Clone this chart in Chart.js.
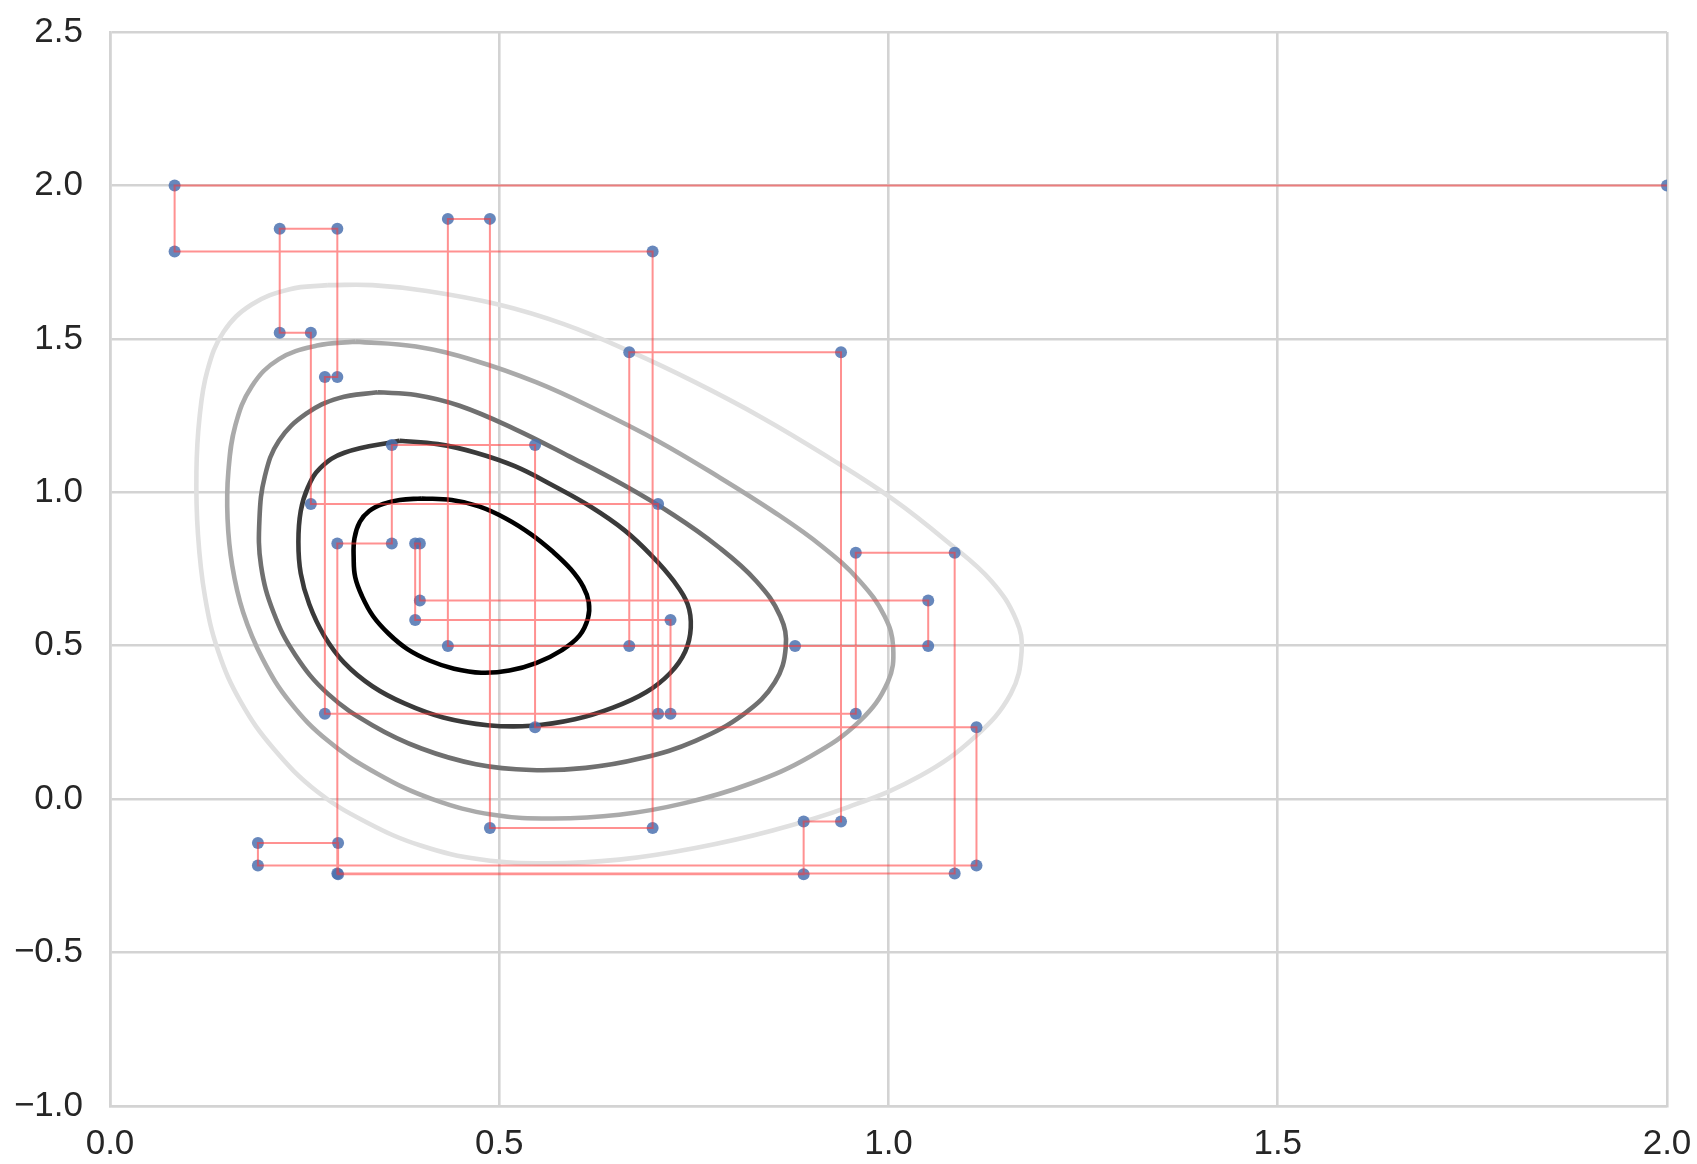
<!DOCTYPE html>
<html>
<head>
<meta charset="utf-8">
<script src="https://cdn.jsdelivr.net/npm/chart.js@4.4.1/dist/chart.umd.min.js"></script>
<style>
    body { margin: 0; background: #ffffff; }
    #wrap { width: 1697px; height: 1164px; }
</style>
</head>
<body>
<div id="wrap"><canvas id="myChart" width="1697" height="1164"></canvas></div>
<script>
// axis ticks
const xTicks = [0.0, 0.5, 1.0, 1.5, 2.0];
const yTicks = [-1.0, -0.5, 0.0, 0.5, 1.0, 1.5, 2.0, 2.5];

// coordinate descent path (blue dots joined by red steps)
const pathX = [2.0, 0.083, 0.083, 0.697, 0.697, 0.488, 0.488, 0.434, 0.434, 1.051,
    1.051, 0.398, 0.398, 0.392, 0.392, 0.720, 0.720, 0.276, 0.276, 0.292,
    0.292, 0.218, 0.218, 0.258, 0.258, 0.704, 0.704, 0.958, 0.958, 1.085,
    1.085, 0.292, 0.292, 0.362, 0.362, 0.546, 0.546, 1.113, 1.113, 0.190,
    0.190, 0.293, 0.293, 0.891, 0.891, 0.939, 0.939, 0.667, 0.667, 0.880];
const pathY = [2.0, 2.0, 1.785, 1.785, -0.094, -0.094, 1.891, 1.891, 0.499, 0.499,
    0.647, 0.647, 0.833, 0.833, 0.584, 0.584, 0.278, 0.278, 1.376, 1.376,
    1.859, 1.859, 1.520, 1.520, 0.962, 0.962, 0.278, 0.278, 0.803, 0.803,
    -0.242, -0.242, 0.833, 0.833, 1.154, 1.154, 0.234, 0.234, -0.216, -0.216,
    -0.143, -0.143, -0.245, -0.245, -0.073, -0.073, 1.456, 1.456, 0.499, 0.499];

// contour lines, innermost first
const level1X = [0.400, 0.372, 0.351, 0.333, 0.321, 0.314, 0.313, 0.315, 0.324, 0.338, 0.358,
    0.382, 0.411, 0.442, 0.477, 0.513, 0.548, 0.580, 0.603, 0.614, 0.615, 0.608, 0.592,
    0.569, 0.541, 0.509, 0.474, 0.439];
const level1Y = [0.980, 0.975, 0.962, 0.939, 0.904, 0.850, 0.787, 0.723, 0.660, 0.596, 0.539,
    0.489, 0.451, 0.425, 0.412, 0.419, 0.444, 0.485, 0.533, 0.590, 0.641, 0.692, 0.749,
    0.806, 0.863, 0.914, 0.954, 0.975];

const level2X = [0.372, 0.301, 0.270, 0.254, 0.245, 0.242, 0.245, 0.256, 0.275, 0.301, 0.337,
    0.379, 0.428, 0.485, 0.541, 0.597, 0.646, 0.689, 0.720, 0.739, 0.746, 0.742, 0.724,
    0.696, 0.661, 0.618, 0.569, 0.520, 0.470, 0.421];
const level2Y = [1.168, 1.129, 1.079, 1.015, 0.939, 0.838, 0.736, 0.635, 0.533, 0.444, 0.368,
    0.311, 0.266, 0.241, 0.239, 0.260, 0.298, 0.349, 0.412, 0.482, 0.558, 0.635, 0.711,
    0.793, 0.876, 0.952, 1.022, 1.085, 1.129, 1.157];

const level3X = [0.344, 0.294, 0.252, 0.217, 0.199, 0.192, 0.194, 0.210, 0.238, 0.280, 0.337,
    0.400, 0.470, 0.541, 0.611, 0.682, 0.752, 0.815, 0.854, 0.868, 0.861, 0.830, 0.780,
    0.724, 0.661, 0.590, 0.520, 0.449, 0.393];
const level3Y = [1.326, 1.307, 1.256, 1.168, 1.053, 0.914, 0.761, 0.609, 0.470, 0.343, 0.241,
    0.165, 0.114, 0.095, 0.102, 0.133, 0.190, 0.279, 0.381, 0.495, 0.596, 0.711, 0.825,
    0.926, 1.022, 1.117, 1.206, 1.282, 1.317];

const level4X = [0.315, 0.266, 0.217, 0.182, 0.161, 0.152, 0.151, 0.157, 0.171, 0.196, 0.231,
    0.280, 0.344, 0.414, 0.492, 0.569, 0.654, 0.738, 0.823, 0.900, 0.963, 0.999, 1.006,
    0.995, 0.963, 0.914, 0.851, 0.780, 0.703, 0.625, 0.548, 0.470, 0.393];
const level4Y = [1.491, 1.478, 1.434, 1.345, 1.218, 1.066, 0.914, 0.761, 0.609, 0.457, 0.317,
    0.190, 0.082, 0.000, -0.051, -0.063, -0.051, -0.013, 0.051, 0.140, 0.254, 0.381, 0.495,
    0.596, 0.711, 0.825, 0.939, 1.053, 1.168, 1.269, 1.358, 1.428, 1.475];

const level5X = [0.280, 0.231, 0.182, 0.146, 0.125, 0.115, 0.111, 0.113, 0.122, 0.139, 0.168,
    0.210, 0.266, 0.330, 0.400, 0.477, 0.562, 0.654, 0.752, 0.851, 0.949, 1.041, 1.111,
    1.157, 1.171, 1.164, 1.132, 1.076, 1.006, 0.921, 0.837, 0.752, 0.668, 0.583, 0.499,
    0.407, 0.337];
const level5Y = [1.675, 1.662, 1.612, 1.523, 1.396, 1.244, 1.066, 0.863, 0.660, 0.482, 0.317,
    0.165, 0.025, -0.076, -0.152, -0.197, -0.209, -0.197, -0.159, -0.102, -0.025, 0.076, 0.203,
    0.343, 0.482, 0.584, 0.711, 0.838, 0.977, 1.117, 1.244, 1.358, 1.459, 1.548, 1.612,
    1.656, 1.675];

const levelColors = ['#000000', '#3a3a3a', '#707070', '#aaaaaa', '#e0e0e0'];

function toPoints(xs, ys, closed) {
    let pts = xs.map((x, i) => ({ x: x, y: ys[i] }));
    if (closed) pts.push(pts[0]); // close the loop
    return pts;
}

function fmt(v) {
    return v.toFixed(1).replace('-', '\u2212');
}

window.onload = () => {
    const gridColor = '#d3d3d3';
    const tickFont = { family: 'Liberation Sans, Arial, sans-serif', size: 35 };

    let levels = [
        [level1X, level1Y], [level2X, level2Y], [level3X, level3Y],
        [level4X, level4Y], [level5X, level5Y]
    ];

    let datasets = levels.map((lv, i) => ({
        data: toPoints(lv[0], lv[1], true),
        showLine: true,
        tension: 0.4,
        borderColor: levelColors[i],
        borderWidth: 4.6,
        pointRadius: 0,
        order: 3
    }));

    // blue dots under the red path
    datasets.push({
        data: toPoints(pathX, pathY, false),
        showLine: false,
        pointRadius: 6,
        pointBorderWidth: 0,
        pointBackgroundColor: 'rgba(76, 114, 176, 0.85)',
        clip: 0,
        order: 2
    });
    datasets.push({
        data: toPoints(pathX, pathY, false),
        showLine: true,
        tension: 0,
        borderColor: 'rgba(255, 55, 55, 0.55)',
        borderWidth: 2,
        pointRadius: 0,
        clip: 0,
        order: 1
    });

    const ctx = document.getElementById('myChart').getContext('2d');
    new Chart(ctx, {
        type: 'scatter',
        data: { datasets: datasets },
        options: {
            responsive: false,
            animation: false,
            devicePixelRatio: 1,
            layout: { padding: { top: 32, right: 30, left: 0, bottom: 0 } },
            plugins: {
                legend: { display: false },
                tooltip: { enabled: false }
            },
            scales: {
                x: {
                    type: 'linear',
                    min: xTicks[0],
                    max: xTicks[xTicks.length - 1],
                    afterBuildTicks: scale => { scale.ticks = xTicks.map(v => ({ value: v })); },
                    afterFit: scale => {
                        scale.height = 58;
                        scale.paddingLeft = 0;
                        scale.paddingRight = 0;
                    },
                    ticks: {
                        callback: v => fmt(v),
                        font: tickFont,
                        color: '#262626',
                        padding: 17,
                        maxRotation: 0
                    },
                    grid: { color: gridColor, lineWidth: 2.6, drawTicks: false },
                    border: { color: gridColor, width: 2.6 }
                },
                y: {
                    type: 'linear',
                    min: yTicks[0],
                    max: yTicks[yTicks.length - 1],
                    afterBuildTicks: scale => { scale.ticks = yTicks.map(v => ({ value: v })); },
                    afterFit: scale => {
                        scale.width = 110;
                        scale.paddingTop = 0;
                        scale.paddingBottom = 0;
                    },
                    ticks: {
                        callback: v => fmt(v),
                        font: tickFont,
                        color: '#262626',
                        padding: 27
                    },
                    grid: { color: gridColor, lineWidth: 2.6, drawTicks: false },
                    border: { color: gridColor, width: 2.6 }
                }
            }
        }
    });
};
</script>
</body>
</html>
